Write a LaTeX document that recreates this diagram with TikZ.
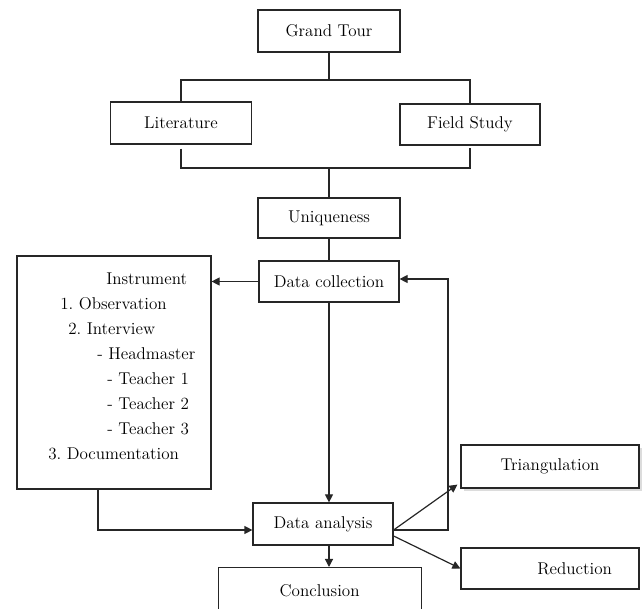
\documentclass[tikz,border=0pt]{standalone}
\usetikzlibrary{arrows.meta,calc,shadows}
\frenchspacing
\begin{document}
\begin{tikzpicture}[x=0.75pt,y=-0.75pt,
  font=\fontsize{12.8}{15}\selectfont,
  ln/.style={draw=black!85,line width=0.9pt},
  arr/.style={ln,-{Triangle[length=6pt,width=6pt]}},
  bx/.style 2 args={draw=black!85,line width=0.9pt,fill=white,inner sep=0pt,
     minimum width=#1*0.75pt,minimum height=#2*0.75pt},
  itxt/.style={anchor=base west,inner sep=0pt}]
\useasboundingbox (0,0) rectangle (644,609);
\clip (0,0) rectangle (644,609);
% boxes
\node[bx={142}{42}] (grand) at (329,31) {Grand Tour};
\node[bx={141}{42}] (lit) at (181,123) {Literature};
\node[bx={140}{41}] (field) at (470,124.5) {Field Study};
\coordinate (tj) at (329,80);
\coordinate (bj) at (329,168);
\node[bx={142}{40}] (uniq) at (329,218) {Uniqueness};
\node[bx={140}{41}] (dc) at (329,281.5) {Data collection};
\node[bx={194}{233}] (instr) at (114,372.5) {};
\node[itxt] (i0) at (106,284.5) {Instrument};
\node[itxt] (i1) at (60,309.5) {1. Observation};
\node[itxt] (i2) at (68,334.5) {2. Interview};
\node[itxt] (i3) at (97,359.5) {- Headmaster};
\node[itxt] (i4) at (107,384.5) {- Teacher 1};
\node[itxt] (i5) at (107,409.5) {- Teacher 2};
\node[itxt] (i6) at (107,434.5) {- Teacher 3};
\node[itxt] (i7) at (48,459.5) {3. Documentation};
\node[bx={140}{42}] (da) at (323,524) {Data analysis};
\node[bx={203}{46},anchor=north west] (concl) at (217.5,567) {Conclusion};
\node[bx={178}{43},drop shadow={shadow xshift=2pt,shadow yshift=-2pt,fill=gray!55}] (tri) at (550,466.5) {Triangulation};
\node[bx={178}{41}] (red) at (550,568.5) {\hspace*{37pt}Reduction};
% connectors
\draw[ln] (grand.south) -- (tj);
\draw[ln] (lit.north) |- (tj) -| (field.north);
\draw[ln,shorten <=3pt] (lit.south) |- (bj);
\draw[ln,shorten <=2pt] (field.south) |- (bj);
\draw[ln] (bj) -- (uniq.north);
\draw[ln] (uniq.south) -- (dc.north);
\draw[arr] (dc.west) -- (instr.east |- dc.west);
\draw[arr] (dc.south) -- (dc.south |- da.north);
\coordinate (ia) at ($(instr.south)+(-16,0)$);
\coordinate (dain) at ($(da.west)+(0,6)$);
\draw[arr] (ia) |- (dain);
\coordinate (daout) at ($(da.east)+(0,6)$);
\coordinate (fb) at (448,279);
\draw[arr] (daout) -| (fb) -- (dc.east |- fb);
\coordinate (trin) at ($(tri.south west)+(-3,-4)$);
\draw[arr] (daout) -- (trin);
\coordinate (daout2) at ($(da.east)+(0,12)$);
\draw[arr] (daout2) -- (red.west);
\draw[arr] (dc.south |- da.south) -- (dc.south |- concl.north);
\end{tikzpicture}
\end{document}
